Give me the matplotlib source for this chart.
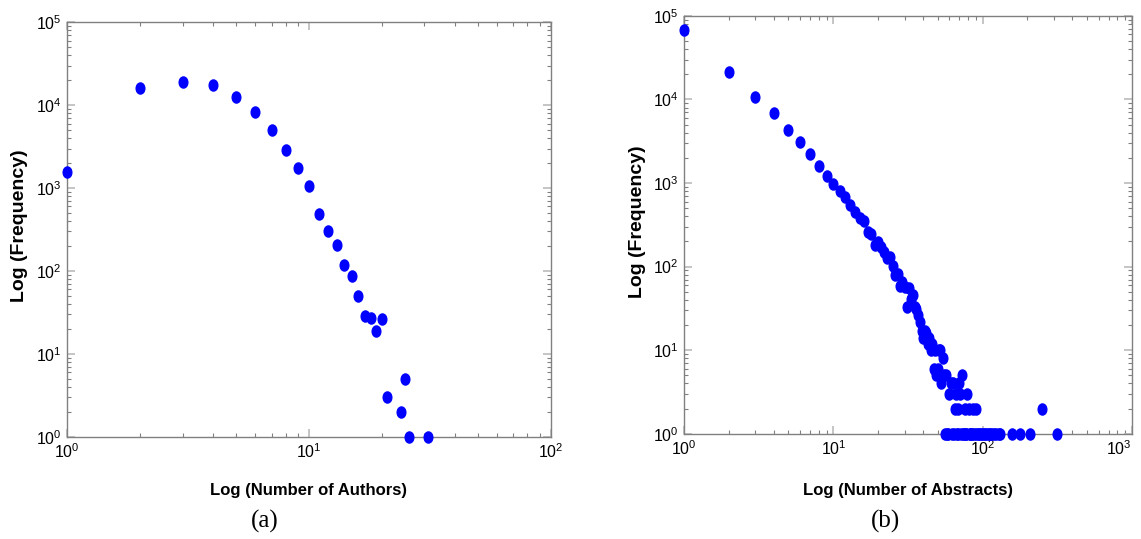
import numpy as np
import matplotlib
matplotlib.use('Agg')
from matplotlib import pyplot as plt
from matplotlib.path import Path
from matplotlib.ticker import LogLocator, FuncFormatter, NullFormatter

plt.rcParams['font.family'] = ['Liberation Sans', 'DejaVu Sans']
plt.rcParams['mathtext.fontset'] = 'custom'
plt.rcParams['mathtext.rm'] = 'Liberation Sans'

# (a) number of authors vs frequency
authors_x = [1, 2, 3, 4, 5, 6, 7, 8, 9, 10, 11, 12, 13, 14, 15, 16, 17, 18, 19, 20,
             21, 24, 25, 26, 31]
authors_y = [1580, 16000, 19200, 17500, 12500, 8300, 5000, 2850, 1740, 1060,
             493, 306, 203, 119, 87, 50, 28.4, 27, 19, 26,
             3, 2, 5, 1, 1]

# (b) number of abstracts vs frequency
abstracts_x = [1, 2, 3, 4, 5, 6, 7, 8, 9, 10,
               11, 12, 13, 14, 15, 16, 17, 18, 19, 20,
               21, 22, 23, 24, 25, 26, 27, 28, 29, 30,
               31, 32, 33, 34, 35, 36, 37, 38, 39, 40,
               41, 42, 43, 44, 45, 46, 47, 48, 49, 50,
               51, 52, 53, 54, 55, 57, 60, 61, 63, 65,
               66, 68, 70, 71, 73, 76, 79, 81, 86, 91, 250,
               56, 58, 59, 62, 64, 67, 69, 72, 74, 75, 77, 78, 82, 83, 84,
               85, 88, 90, 93, 95, 97, 99, 102, 104, 107, 110, 113, 116,
               120, 124, 128, 132, 157, 178, 208, 314]
abstracts_y = [67800, 21400, 10700, 6800, 4360, 3100, 2200, 1610, 1213, 985,
               807, 687, 542, 449, 382, 347, 262, 245, 183, 195,
               171, 151, 126, 131, 102, 80, 82, 59, 65, 57,
               33, 55, 41, 46, 33, 31, 26, 22, 17, 14,
               17, 16, 12, 14, 10, 12, 6, 10, 5, 6,
               10, 10, 4, 8, 5, 5, 3, 4, 4, 2,
               3, 2, 4, 3, 5, 2, 3, 2, 2, 2, 2,
               1, 1, 1, 1, 1, 1, 1, 1, 1, 1, 1, 1, 1, 1, 1,
               1, 1, 1, 1, 1, 1, 1, 1, 1, 1, 1, 1, 1,
               1, 1, 1, 1, 1, 1, 1, 1]

# slightly tall ellipse marker
circ = Path.unit_circle()
ellipse = Path(circ.vertices * np.array([0.78, 1.0]), circ.codes)


def style_axes(ax, xmax):
    ax.set_xscale('log')
    ax.set_yscale('log')
    ax.set_xlim(1, xmax)
    ax.set_ylim(1, 1e5)
    fmt = FuncFormatter(lambda v, p: r'$\mathregular{10^{%d}}$' % round(np.log10(v)))
    ax.xaxis.set_major_formatter(fmt)
    ax.yaxis.set_major_formatter(fmt)
    ax.xaxis.set_minor_formatter(NullFormatter())
    ax.yaxis.set_minor_formatter(NullFormatter())
    ax.yaxis.set_major_locator(LogLocator(base=10, numticks=10))
    ax.yaxis.set_minor_locator(LogLocator(base=10, subs=np.arange(2, 10), numticks=10))
    for s in ax.spines.values():
        s.set_color('#808080')
        s.set_linewidth(1.0)
    ax.tick_params(which='both', direction='in', top=True, right=True,
                   labelsize=11.5, pad=4)
    ax.tick_params(which='major', length=6, width=1.3, color='#c0c0c0')
    ax.tick_params(which='minor', length=3, width=0.8, color='#808080')


fig = plt.figure(figsize=(11.41, 5.39), dpi=100)
ax1 = fig.add_axes([0.059, 0.1898, 0.4237, 0.7688])
ax2 = fig.add_axes([0.5997, 0.1954, 0.3921, 0.775])

ax1.plot(authors_x, authors_y, linestyle='none', marker=ellipse, markersize=8,
         color='#0000ff', clip_on=False, zorder=3)
ax2.plot(abstracts_x, abstracts_y, linestyle='none', marker=ellipse, markersize=8,
         color='#0000ff', clip_on=False, zorder=3)

style_axes(ax1, 100)
style_axes(ax2, 1000)

label_font = dict(family=['Liberation Sans Narrow', 'Liberation Sans'],
                  fontweight='bold', fontsize=12)
fig.text(309 / 1141, 1 - 490 / 539, 'Log (Number of Authors)',
         ha='center', va='center', **label_font)
fig.text(908 / 1141, 1 - 490 / 539, 'Log (Number of Abstracts)',
         ha='center', va='center', **label_font)

fig.text(20 / 1141, 1 - 226 / 539, 'Log (Frequency)', rotation=90,
         ha='center', va='center', fontweight='bold', fontsize=14)
fig.text(637 / 1141, 1 - 222 / 539, 'Log (Frequency)', rotation=90,
         ha='center', va='center', fontweight='bold', fontsize=14)

fig.text(265 / 1141, 1 - 521 / 539, '(a)', ha='center', va='center',
         family=['Liberation Serif', 'DejaVu Serif'], fontsize=18)
fig.text(885 / 1141, 1 - 521 / 539, '(b)', ha='center', va='center',
         family=['Liberation Serif', 'DejaVu Serif'], fontsize=18)

# keep the last x tick label of (b) inside the canvas
fig.canvas.draw()
for tick in ax2.xaxis.get_major_ticks():
    if np.isclose(tick.get_loc(), 1000):
        tick.label1.set_horizontalalignment('right')
        tick.label1.set_x(1000)

fig.savefig('out.png', dpi=100)
